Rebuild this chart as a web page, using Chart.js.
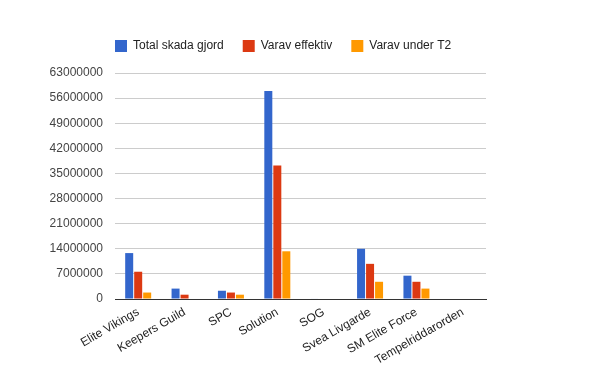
<!DOCTYPE html>
<html>
<head>
<meta charset="utf-8">
<script src="https://cdn.jsdelivr.net/npm/chart.js@4/dist/chart.umd.min.js"></script>
<style>
  html, body { margin: 0; padding: 0; background: #fff; }
  #wrap { width: 600px; height: 371px; }
</style>
</head>
<body>
<div id="wrap"><canvas id="chart" width="600" height="371"></canvas></div>
<script>
'use strict';

// ===== data =====
const CLANS = ["Elite Vikings","Keepers Guild","SPC","Solution","SOG","Svea Livgarde","SM Elite Force","Tempelriddarorden"];
const TOTAL_DAMAGE = [12800000, 2900000, 2300000, 58000000, 150000, 14000000, 6500000, 0];
const EFFECTIVE    = [7600000, 1200000, 1800000, 37200000, 0, 9800000, 4800000, 0];
const UNDER_T2     = [1800000, 0, 1200000, 13300000, 0, 4800000, 2900000, 0];
const SERIES_NAMES = ["Total skada gjord","Varav effektiv","Varav under T2"];
const Y_MAX = 63000000;
const Y_STEP = 7000000;

// ===== colors =====
const COLORS = ["#3366cc","#dc3912","#ff9900"];
const FONT = "Arial, 'Liberation Sans', sans-serif";

// legend starts at the left edge of the plot and sits a bit higher, like the original
const LEGEND_LIFT = 11;
const legendShift = {
  id: 'legendShift',
  afterLayout(chart){
    const lg = chart.legend;
    if(!lg) return;
    const pad = lg.options.labels.padding;
    const w = lg.right - lg.left;
    lg.left = chart.chartArea.left - pad;
    lg.right = lg.left + w;
    lg.top -= LEGEND_LIFT;
    lg.bottom -= LEGEND_LIFT;
  }
};

const series = [TOTAL_DAMAGE, EFFECTIVE, UNDER_T2];

new Chart(document.getElementById('chart'), {
  type: 'bar',
  data: {
    labels: CLANS,
    datasets: series.map((vals, i) => ({
      label: SERIES_NAMES[i],
      data: vals,
      backgroundColor: COLORS[i],
      borderWidth: 0,
      categoryPercentage: 0.582,
      barPercentage: 0.89
    }))
  },
  options: {
    responsive: false,
    animation: false,
    layout: { padding: { top: 32, right: 114, left: 0, bottom: 0 } },
    plugins: {
      legend: {
        position: 'top',
        align: 'start',
        labels: {
          boxWidth: 12,
          boxHeight: 12,
          padding: 19,
          color: '#222',
          font: { family: FONT, size: 12 }
        }
      },
      tooltip: { enabled: false }
    },
    scales: {
      x: {
        grid: { display: false, drawTicks: false },
        border: { display: true, color: '#333', width: 1 },
        ticks: {
          autoSkip: false,
          minRotation: 30,
          maxRotation: 30,
          padding: 6,
          color: '#222',
          font: { family: FONT, size: 12 }
        },
        afterFit(s){ s.height = 72; }
      },
      y: {
        min: 0,
        max: Y_MAX,
        border: { display: false },
        grid: {
          color: (c) => c.tick && c.tick.value === 0 ? '#333' : '#ccc',
          drawTicks: false
        },
        ticks: {
          stepSize: Y_STEP,
          padding: 12,
          color: '#444',
          font: { family: FONT, size: 12 },
          callback: (v) => String(v)
        },
        afterFit(s){ s.width = 115; }
      }
    }
  },
  plugins: [legendShift]
});
</script>
</body>
</html>
